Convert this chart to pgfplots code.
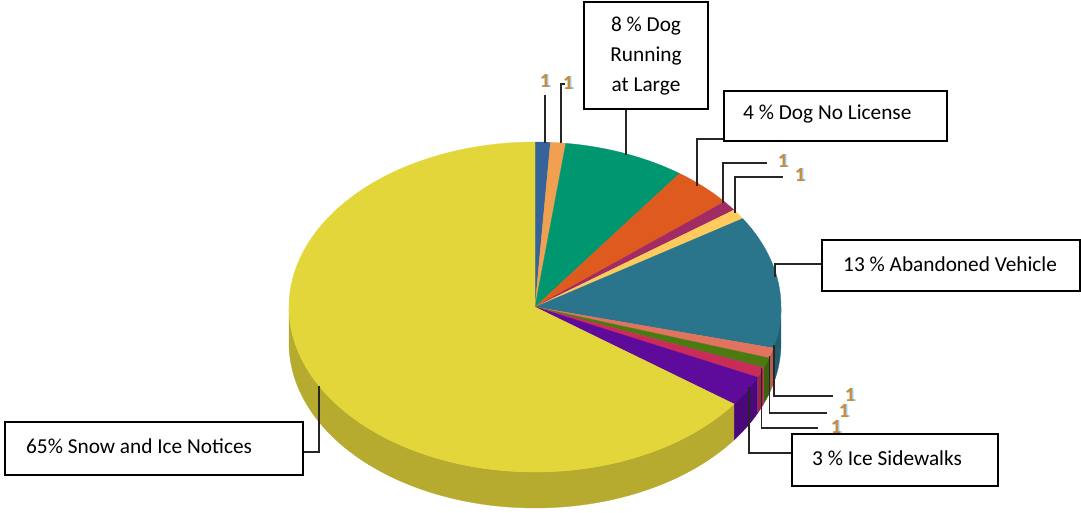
\documentclass[border=0pt]{standalone}
\usepackage{fontspec}
\setmainfont{Carlito}
\usepackage{pgfplots}
\usepackage{pgfplotstable}
\pgfplotsset{compat=1.18}

% Share of notices by category, clockwise from twelve o'clock
\pgfplotstableread{
value col
1  sliceBlue
1  sliceOrange
8  sliceGreen
4  sliceRust
1  slicePlum
1  sliceSand
13 sliceTeal
1  sliceSalmon
1  sliceMoss
1  sliceCrimson
3  sliceViolet
65 sliceYellow
}\slicedata

\definecolor{sliceBlue}{HTML}{35639A}
\definecolor{sliceOrange}{HTML}{F0A050}
\definecolor{sliceGreen}{HTML}{009770}
\definecolor{sliceRust}{HTML}{DE5A1E}
\definecolor{slicePlum}{HTML}{A12B63}
\definecolor{sliceSand}{HTML}{FFCB5C}
\definecolor{sliceTeal}{HTML}{2A748C}
\definecolor{sliceSalmon}{HTML}{E2735F}
\definecolor{sliceMoss}{HTML}{4C7A12}
\definecolor{sliceCrimson}{HTML}{C92C58}
\definecolor{sliceViolet}{HTML}{5E0A9A}
\definecolor{sliceYellow}{HTML}{E3D63A}
\definecolor{oneOrange}{HTML}{C98B3C}
\definecolor{oneBlue}{HTML}{9CCDF2}

% Ellipse of the top face and height of the rim
\def\cx{535}\def\cy{307}\def\rx{246}\def\ry{165}\def\rim{36}

% Append to \coords the arc between two percentages, shifted down by #3
\newcommand{\addarc}[3]{%
  \pgfmathtruncatemacro\nsteps{max(2,ceil(abs(#2-#1)*4))}%
  \foreach \k in {0,...,\nsteps}{%
    \pgfmathsetmacro\t{3.6*(#1+(#2-#1)*(\k/\nsteps))}%
    \pgfmathsetmacro\px{\cx+\rx*sin(\t)}%
    \pgfmathsetmacro\py{\cy-\ry*cos(\t)+#3}%
    \xdef\coords{\coords (\px,\py)}%
  }%
}

\newcommand{\calloutbox}[4]{%
  \draw[black,line width=1.8pt,fill=white] (axis cs:#1,#2) rectangle (axis cs:#3,#4);}
\newcommand{\one}[2]{%
  \node[text=oneBlue,inner sep=0pt,font=\fontsize{20}{20}\selectfont\bfseries] at (axis cs:#1+1.5,#2) {1};
  \node[text=oneOrange,inner sep=0pt,font=\fontsize{20}{20}\selectfont\bfseries] at (axis cs:#1,#2) {1};}

\begin{document}
\begin{tikzpicture}[x=1pt,y=1pt]
\useasboundingbox (0,0) rectangle (1081pt,513pt);
\begin{axis}[
  at={(0,0)},anchor=south west,
  scale only axis,width=1081pt,height=513pt,
  xmin=0,xmax=1081,ymin=0,ymax=513,y dir=reverse,
  hide axis,clip=false,
  font=\fontsize{21.3}{24}\selectfont,
]
\pgfplotstablegetrowsof{\slicedata}
\pgfmathtruncatemacro\lastrow{\pgfplotsretval-1}

% Rim: only the part of each slice on the near half of the ellipse
\gdef\cum{0}
\foreach \r in {0,...,\lastrow}{
  \pgfplotstablegetelem{\r}{value}\of\slicedata \let\val\pgfplotsretval
  \pgfplotstablegetelem{\r}{col}\of\slicedata \let\col\pgfplotsretval
  \pgfmathsetmacro\from{\cum}
  \pgfmathsetmacro\upto{\cum+\val}
  \xdef\cum{\upto}
  \pgfmathsetmacro\a{max(\from,25)}
  \pgfmathsetmacro\b{min(\upto,75)}
  \pgfmathparse{\a<\b?1:0}
  \ifdim\pgfmathresult pt>0.5pt\relax
    \gdef\coords{}
    \addarc{\a}{\b}{0}
    \addarc{\b}{\a}{\rim}
    \edef\temp{\noexpand\addplot[draw=\col!80!black,fill=\col!80!black,line width=.3pt,forget plot] coordinates {\coords};}
    \temp
  \fi
}

% Top face
\gdef\cum{0}
\foreach \r in {0,...,\lastrow}{
  \pgfplotstablegetelem{\r}{value}\of\slicedata \let\val\pgfplotsretval
  \pgfplotstablegetelem{\r}{col}\of\slicedata \let\col\pgfplotsretval
  \pgfmathsetmacro\from{\cum}
  \pgfmathsetmacro\upto{\cum+\val}
  \xdef\cum{\upto}
  \xdef\coords{(\cx,\cy)}
  \addarc{\from}{\upto}{0}
  \xdef\coords{\coords (\cx,\cy)}
  \edef\temp{\noexpand\addplot[draw=\col,fill=\col,line width=.3pt,forget plot] coordinates {\coords};}
  \temp
}

% Leader lines
\begin{scope}[black!85,line width=1.8pt]
\draw (axis cs:545,143) -- (axis cs:545,95);
\draw (axis cs:561,143) -- (axis cs:561,84) -- (axis cs:565,84);
\draw (axis cs:626,155) -- (axis cs:626,109);
\draw (axis cs:697,186) -- (axis cs:697,139) -- (axis cs:724,139);
\draw (axis cs:723,203) -- (axis cs:723,163) -- (axis cs:767,163);
\draw (axis cs:735,213) -- (axis cs:735,177) -- (axis cs:783,177);
\draw (axis cs:775,277) -- (axis cs:775,264) -- (axis cs:822,264);
\draw (axis cs:774,345) -- (axis cs:774,396) -- (axis cs:833,396);
\draw (axis cs:769.5,356) -- (axis cs:769.5,413) -- (axis cs:827,413);
\draw (axis cs:761.5,368) -- (axis cs:761.5,428) -- (axis cs:818,428);
\draw (axis cs:749,387) -- (axis cs:749,453) -- (axis cs:792,453);
\draw (axis cs:319,386) -- (axis cs:319,452) -- (axis cs:303,452);
\end{scope}

% Unit labels of the small slices
\one{545}{81}
\one{568}{83}
\one{783}{161}
\one{800}{175}
\one{850}{395}
\one{844}{411}
\one{836}{427}

% Labelled boxes
\calloutbox{584}{2}{708}{109}
\node[align=center,inner sep=0pt] at (axis cs:646,57) {\begin{tabular}{@{}c@{}}8 \% Dog\\[6pt]Running\\[6pt]at Large\end{tabular}};
\calloutbox{724}{91}{947}{141}
\node[anchor=west,inner sep=0pt] at (axis cs:743,114) {4 \% Dog No License};
\calloutbox{822}{240}{1080}{291}
\node[anchor=west,inner sep=0pt] at (axis cs:843,264) {13 \% Abandoned Vehicle};
\calloutbox{792}{434}{998}{486}
\node[anchor=west,inner sep=0pt] at (axis cs:812,458) {3 \% Ice Sidewalks};
\calloutbox{5}{422}{303}{475}
\node[anchor=west,inner sep=0pt] at (axis cs:26,446) {65\% Snow and Ice Notices};
\end{axis}
\end{tikzpicture}
\end{document}
